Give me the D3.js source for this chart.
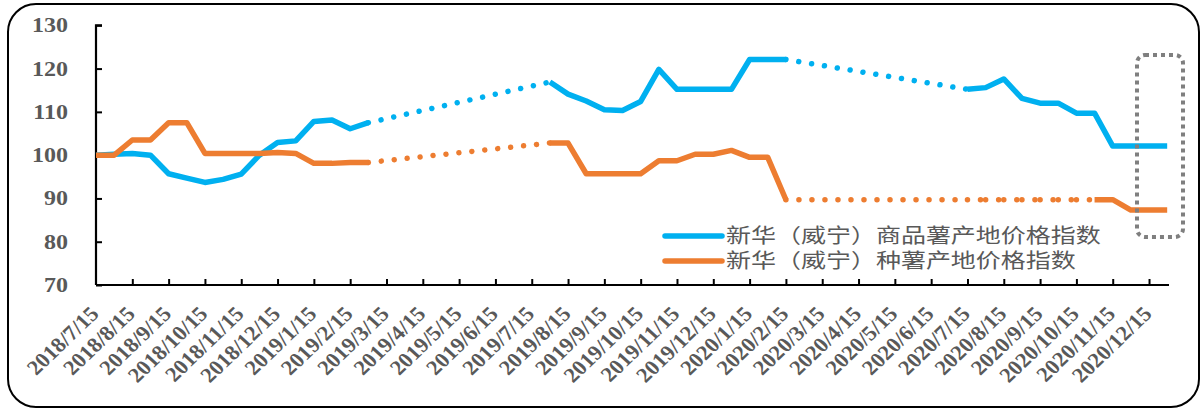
<!DOCTYPE html>
<html>
<head>
<meta charset="utf-8">
<script src="https://cdn.jsdelivr.net/npm/d3@7"></script>
<style>
  html, body { margin: 0; padding: 0; background: #fff; }
  svg { display: block; }
</style>
</head>
<body>
<div id="chart"></div>
<script>
// half-month steps, index 0 = 2018/7/15, label every 2nd step
let monthLabels = [
  '2018/7/15', '2018/8/15', '2018/9/15', '2018/10/15', '2018/11/15', '2018/12/15',
  '2019/1/15', '2019/2/15', '2019/3/15', '2019/4/15', '2019/5/15', '2019/6/15',
  '2019/7/15', '2019/8/15', '2019/9/15', '2019/10/15', '2019/11/15', '2019/12/15',
  '2020/1/15', '2020/2/15', '2020/3/15', '2020/4/15', '2020/5/15', '2020/6/15',
  '2020/7/15', '2020/8/15', '2020/9/15', '2020/10/15', '2020/11/15', '2020/12/15'
]

let seriesNames = ['新华（威宁）商品薯产地价格指数', '新华（威宁）种薯产地价格指数']

let N = null
let commodity = [
  100.0, 100.2, 100.4, 100.0, 95.7, 94.7, 93.7, 94.4, 95.6, 100.0,
  102.9, 103.3, 107.8, 108.1, 106.1, 107.5, N, N, N, N,
  N, N, N, N, N, 116.9, 114.1, 112.5, 110.5, 110.3,
  112.4, 119.8, 115.2, 115.2, 115.2, 115.2, 122.1, 122.1, 122.1, N,
  N, N, N, N, N, N, N, N, 115.2, 115.6,
  117.6, 113.1, 112.0, 112.0, 109.7, 109.7, 102.1, 102.1, 102.1, 102.1
]
let seed = [
  100.0, 100.0, 103.5, 103.5, 107.5, 107.5, 100.4, 100.4, 100.4, 100.4,
  100.6, 100.4, 98.1, 98.1, 98.3, 98.3, N, N, N, N,
  N, N, N, N, N, 102.8, 102.8, 95.7, 95.7, 95.7,
  95.7, 98.7, 98.7, 100.2, 100.2, 101.1, 99.5, 99.5, 89.7, N,
  N, N, N, N, N, N, N, N, 89.7, 89.7,
  89.7, 89.7, 89.7, 89.7, 89.7, 89.7, 89.7, 87.3, 87.3, 87.3
]

// stretches of actual quotes (drawn solid); everything else is dotted
let commodityActual = [[0, 15], [25, 38], [48, 59]]
let seedActual = [[0, 15], [25, 38], [55, 59]]

let yTicks = [70, 80, 90, 100, 110, 120, 130]

let width = 1201
let height = 409

let svg = d3
  .select('#chart')
  .append('svg')
  .attr('width', width)
  .attr('height', height)

// outer rounded frame
svg
  .append('rect')
  .attr('x', 8)
  .attr('y', 4)
  .attr('width', 1191)
  .attr('height', 403)
  .attr('rx', 28)
  .attr('fill', 'none')
  .attr('stroke', '#000')
  .attr('stroke-width', 2)

let xScale = d3.scaleLinear().domain([0, 59.1]).range([96, 1169])
let yScale = d3.scaleLinear().domain([70, 130]).range([285, 25.3])

let textGray = '#595959'

// y axis
let yAxis = d3
  .axisRight(yScale)
  .tickValues(yTicks)
  .tickSize(6)
  .tickFormat('')

svg
  .append('g')
  .attr('transform', `translate(${xScale(0)},0)`)
  .call(yAxis)
  .call(g => g.select('.domain').attr('stroke', '#000').attr('stroke-width', 2.2).attr('d', `M6,${yScale(130)}H0V${yScale(70)}`))
  .call(g => g.selectAll('.tick line').attr('stroke', '#000').attr('stroke-width', 2))

svg
  .selectAll('.y-label')
  .data(yTicks)
  .enter()
  .append('text')
  .attr('class', 'y-label')
  .attr('transform', d => `translate(68,${yScale(d) + 7}) scale(1.2,1)`)
  .attr('text-anchor', 'end')
  .attr('font-family', '"Liberation Serif", "Times New Roman", serif')
  .attr('font-weight', 'bold')
  .attr('font-size', 20)
  .attr('fill', textGray)
  .text(d => d)

// x axis
let xTickIdx = d3.range(2, 59, 2)
let xAxis = d3
  .axisTop(xScale)
  .tickValues(xTickIdx)
  .tickSize(6)
  .tickFormat('')

svg
  .append('g')
  .attr('transform', `translate(0,${yScale(70)})`)
  .call(xAxis)
  .call(g => g.select('.domain').attr('stroke', '#000').attr('stroke-width', 2.2).attr('d', `M${xScale(0)},0H${xScale(59.1)}`))
  .call(g => g.selectAll('.tick line').attr('stroke', '#000').attr('stroke-width', 2))

svg
  .selectAll('.x-label')
  .data(monthLabels)
  .enter()
  .append('text')
  .attr('class', 'x-label')
  .attr('transform', (d, i) => `translate(${xScale(i * 2) + 4},315) scale(1.08,1) rotate(-46)`)
  .attr('text-anchor', 'end')
  .attr('font-family', '"Liberation Serif", "Times New Roman", serif')
  .attr('font-weight', 'bold')
  .attr('font-size', 21)
  .attr('fill', textGray)
  .text(d => d)

// series
let line = d3
  .line()
  .x(d => xScale(d.i))
  .y(d => yScale(d.v))

function drawSeries(values, actual, color) {
  let pts = values
    .map((v, i) => ({ i: i, v: v }))
    .filter(d => d.v !== null)

  let inActual = (a, b) => actual.some(r => a >= r[0] && b <= r[1])

  let g = svg.append('g')

  // dotted pieces, one per gap so the dot pattern restarts like Excel does
  for (let k = 0; k < pts.length - 1; k++) {
    let a = pts[k]
    let b = pts[k + 1]
    if (inActual(a.i, b.i)) continue
    g.append('path')
      .attr('d', line([a, b]))
      .attr('fill', 'none')
      .attr('stroke', color)
      .attr('stroke-width', 5.5)
      .attr('stroke-linecap', 'round')
      .attr('stroke-dasharray', '0.01 13')
  }

  actual.forEach(r => {
    let seg = pts.filter(d => d.i >= r[0] && d.i <= r[1])
    g.append('path')
      .attr('d', line(seg))
      .attr('fill', 'none')
      .attr('stroke', color)
      .attr('stroke-width', 5.5)
      .attr('stroke-linejoin', 'round')
      .attr('stroke-linecap', 'butt')
  })
}

drawSeries(commodity, commodityActual, '#00B0F0')
drawSeries(seed, seedActual, '#ED7D31')

// legend
let legend = svg.append('g').attr('transform', 'translate(665,236)')
let legendColors = ['#00B0F0', '#ED7D31']

legend
  .selectAll('.legend-entry')
  .data(seriesNames)
  .enter()
  .append('g')
  .attr('class', 'legend-entry')
  .attr('transform', (d, i) => `translate(0,${i * 25})`)
  .each(function(d, i) {
    let g = d3.select(this)

    g.append('line')
      .attr('x1', 0)
      .attr('x2', 57)
      .attr('y1', 0)
      .attr('y2', 0)
      .attr('stroke', legendColors[i])
      .attr('stroke-width', 5.5)
      .attr('stroke-linecap', 'round')

    g.append('text')
      .attr('transform', 'translate(61,7) scale(1.25,1)')
      .attr('font-family', '"Noto Sans CJK SC", "Noto Sans", sans-serif')
      .attr('font-size', 20)
      .attr('fill', textGray)
      .text(d)
  })

// highlight box around the latest readings
svg
  .append('rect')
  .attr('x', 1137)
  .attr('y', 55)
  .attr('width', 46)
  .attr('height', 182)
  .attr('rx', 8)
  .attr('fill', 'none')
  .attr('stroke', '#7F7F7F')
  .attr('stroke-width', 4)
  .attr('stroke-dasharray', '4 4')
</script>
</body>
</html>
